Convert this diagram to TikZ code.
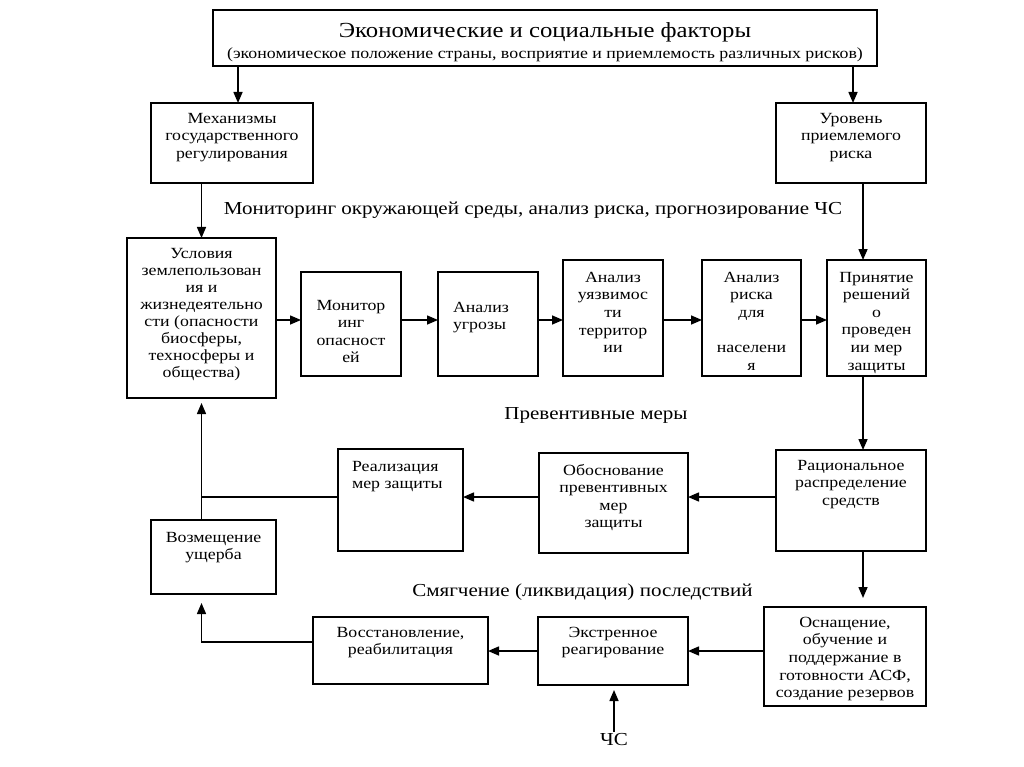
\documentclass[tikz,border=0pt]{standalone}
\usepackage{fontspec}
\setmainfont{Liberation Serif}[FakeStretch=1.15]
\usetikzlibrary{calc}
\usetikzlibrary{arrows.meta}

\newcommand{\boxfont}{\fontsize{15.5}{17.6}\selectfont}
\newcommand{\labelfont}{\fontsize{18.3}{22}\selectfont}
\newcommand{\titlefont}{\fontsize{21.5}{24}\selectfont}
% 枠の中の文字（上寄せ）
\newcommand{\blocktext}[4][10pt]{\parbox[c][#3][t]{#2}{\centering\vspace*{#1}#4}}

\begin{document}
\begin{tikzpicture}
  [
  x=1pt, y=-1pt,
  % 矢印の設定
  arrow/.style={-{Triangle[length=11pt, width=9pt]}, line width=1.5pt},
  % 矢印のない線
  line/.style={line width=1.5pt},
  % ブロック
  block/.style={rectangle, draw, line width=1.5pt, inner sep=0,
  outer sep=0, font=\boxfont},
  % 見出し
  caption/.style={font=\labelfont, inner sep=2pt}
  ]
  \useasboundingbox (0,0) rectangle (1024,767);
  \node [block] (econ) at (545,38) {\blocktext[13pt]{664pt}{56pt}{{\titlefont
  Экономические и социальные факторы\par}\fontsize{15.5}{20.5}\selectfont
  (экономическое положение страны, восприятие и приемлемость различных рисков)}};
  \node [block] (mech) at (232,143) {\blocktext{162pt}{80pt}{Механизмы\\государственного\\регулирования}};
  \node [block] (level) at (851,143) {\blocktext{150pt}{80pt}{Уровень\\приемлемого\\риска}};
  \node [block] (cond) at (201.5,318) {\blocktext{149pt}{160pt}{\fontsize{15.5}{17}\selectfont
  Условия\\землепользован\\ия и\\жизнедеятельно\\сти (опасности\\биосферы,\\техносферы и\\общества)}};
  \node [block] (monit) at (351,324) {\blocktext[28pt]{100pt}{104pt}{Монитор\\инг\\опасност\\ей}};
  \node [block] (threat) at (488,324) {\blocktext[30pt]{100pt}{104pt}{\raggedright\leftskip=15pt
  Анализ\\угрозы}};
  \node [block] (vuln) at (613,318) {\blocktext[12pt]{100pt}{116pt}{Анализ\\уязвимос\\ти\\территор\\ии}};
  \node [block] (risk) at (751.5,318) {\blocktext[12pt]{99pt}{116pt}{Анализ\\риска\\для\\[17.6pt]населени\\я}};
  \node [block] (decide) at (876.5,318) {\blocktext[12pt]{99pt}{116pt}{Принятие\\решений\\о\\проведен\\ии мер\\защиты}};
  \node [block] (realize) at (400.5,500) {\blocktext[12pt]{125pt}{102pt}{\raggedright\leftskip=14pt
  Реализация\\мер защиты}};
  \node [block] (justify) at (613.5,503) {\blocktext[11pt]{149pt}{100pt}{Обоснование\\превентивных\\мер\\защиты}};
  \node [block] (ration) at (851,500.5) {\blocktext{150pt}{101pt}{Рациональное\\распределение\\средств}};
  \node [block] (comp) at (213.5,557) {\blocktext[12pt]{125pt}{74pt}{Возмещение\\ущерба}};
  \node [block] (restore) at (400.5,650.5) {\blocktext{175pt}{67pt}{Восстановление,\\реабилитация}};
  \node [block] (emerg) at (613,651) {\blocktext{150pt}{68pt}{Экстренное\\реагирование}};
  \node [block] (equip) at (845,656.5) {\blocktext{162pt}{99pt}{Оснащение,\\обучение и\\поддержание в\\готовности АСФ,\\создание резервов}};

  \node [caption] (monlabel) at (533,210) {Мониторинг окружающей среды, анализ риска, прогнозирование ЧС};
  \node [caption] (prevlabel) at (596,415) {Превентивные меры};
  \node [caption] (mitlabel) at (582.5,592) {Смягчение (ликвидация) последствий};
  \node [caption] (chs) at (614,740) {ЧС};

  \coordinate (row1) at (0,320);
  \coordinate (row2) at (0,497);
  \coordinate (row3) at (0,651);
  \coordinate (rx) at (863,0);

  \draw[arrow] ([xshift=6pt]mech.north |- econ.south) -- ([xshift=6pt]mech.north);
  \draw[arrow] ([xshift=2pt]level.north |- econ.south) -- ([xshift=2pt]level.north);
  \draw[arrow] (cond.north |- mech.south) -- (cond.north);
  \draw[arrow] (rx |- level.south) -- (rx |- decide.north);
  \foreach \a/\b in {cond/monit, monit/threat, threat/vuln, vuln/risk, risk/decide}
  \draw[arrow] (\a.east |- row1) -- (\b.west |- row1);
  \draw[arrow] (rx |- decide.south) -- (rx |- ration.north);
  \foreach \a/\b in {ration/justify, justify/realize}
  \draw[arrow] (\a.west |- row2) -- (\b.east |- row2);
  \draw[arrow] (realize.west |- row2) -| ([yshift=-5pt]cond.south);
  \draw[line] (cond.south |- comp.north) -- (cond.south |- row2);
  \draw[arrow] (rx |- ration.south) -- ($(rx |- equip.north)+(0,-9)$);
  \foreach \a/\b in {equip/emerg, emerg/restore}
  \draw[arrow] (\a.west |- row3) -- (\b.east |- row3);
  \draw[arrow] ($(restore.west)+(0,-8.5)$) -| ($(cond.south |- comp.south)+(0,9)$);
  \draw[arrow] (chs.north) -- ($(chs.north |- emerg.south)+(0,5)$);
\end{tikzpicture}
\end{document}
